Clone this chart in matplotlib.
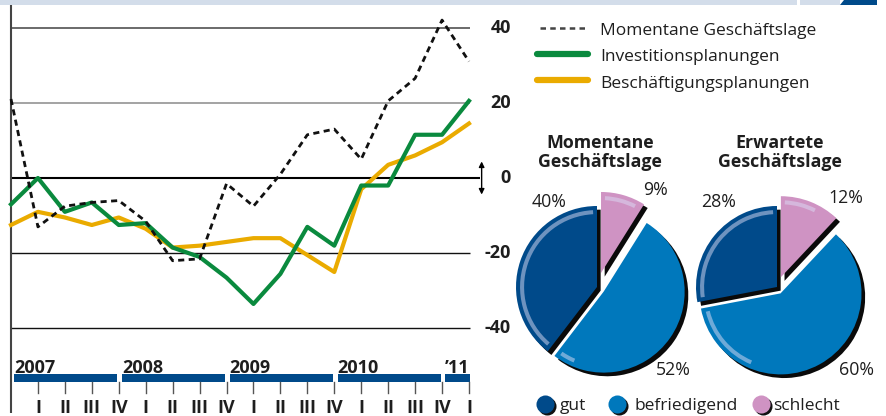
import matplotlib.pyplot as plt
from matplotlib.patches import Rectangle, Polygon, Wedge
from matplotlib.transforms import blended_transform_factory

plt.rcParams['font.family'] = ['Open Sans', 'DejaVu Sans']

W, H = 886, 416

# quarters from 2006 IV to 2011 I
quarter_labels = ['IV', 'I', 'II', 'III', 'IV', 'I', 'II', 'III', 'IV',
                  'I', 'II', 'III', 'IV', 'I', 'II', 'III', 'IV', 'I']
year_labels = ['2007', '2008', '2009', '2010', '\u201911']

momentane = [21, -13, -7.5, -6.5, -6, -11.5, -22, -21.5, -1.5,
             -7.5, 1, 11.5, 13, 5, 20.5, 26.5, 42, 31]
investition = [-7, 0, -9, -6.5, -12.5, -12, -18.5, -21, -26.5,
               -33.5, -25.5, -13, -18, -2, -2, 11.5, 11.5, 20.5]
beschaeftigung = [-12.5, -9, -10.5, -12.5, -10.5, -13.5, -18.5, -18, -17,
                  -16, -16, -20.5, -25, -3, 3.5, 6, 9.5, 14.5]

y_ticks = [40, 20, 0, -20, -40]

series_names = ['Momentane Geschäftslage', 'Investitionsplanungen',
                'Beschäftigungsplanungen']

pie_labels = ['gut', 'befriedigend', 'schlecht']
pie_momentan = [40, 52, 9]
pie_erwartet = [28, 60, 12]

c_green = '#0a8a3e'
c_yellow = '#eaab00'
c_dark = '#004a8a'
c_mid = '#0078bc'
c_pink = '#cf93c3'
c_text = '#1e1e1e'

# pixel layout of the line chart
X0, DX = 11, 26.94
Y0, DY = 178, 3.76


def fx(px):
    return px / W


def fy(py):
    return 1 - py / H


fig = plt.figure(figsize=(W / 100, H / 100), dpi=100)
ax = fig.add_axes([0, 0, 1, 1])
ax.set_xlim(-X0 / DX, (W - X0) / DX)
ax.set_ylim((Y0 - H) / DY, Y0 / DY)
ax.axis('off')
bt = blended_transform_factory(ax.transData, fig.transFigure)

# top strip
fig.patches.append(Rectangle((0, fy(5)), fx(797), 5 / H, transform=fig.transFigure,
                             color='#d3ddea', lw=0, zorder=0))
fig.patches.append(Rectangle((fx(800), fy(5)), fx(40), 5 / H, transform=fig.transFigure,
                             color='#d3ddea', lw=0, zorder=0))
fig.patches.append(Polygon([(fx(840), fy(5)), (fx(844), fy(0)), (fx(877), fy(0)),
                            (fx(877), fy(5))], transform=fig.transFigure,
                           color=c_dark, lw=0, zorder=0))

# grid + right labels
n = len(momentane)
grid_style = {40: ('#6a6a6a', 1.4), 20: ('#8a8a8a', 1.1), 0: ('black', 1.5),
              -20: ('#111111', 1.0), -40: ('#111111', 1.0)}
for v in y_ticks:
    col, lw = grid_style[v]
    ax.hlines(v, 0, 17.4 if v == 0 else 17.05, color=col, lw=lw, zorder=1)
    ax.text(18.55, v, f'{v}', ha='right', va='center', fontsize=13,
            fontweight='bold', color=c_text)

ax.annotate('', xy=(17.47, 4.4), xytext=(17.47, -4.4),
            arrowprops=dict(arrowstyle='<|-|>', color='black', lw=1.0,
                            mutation_scale=8, shrinkA=0, shrinkB=0))

# left axis line
ax.plot([0, 0], [fy(5), fy(413)], transform=bt, color='#444444', lw=1.5,
        solid_capstyle='butt', zorder=3)

x = list(range(n))
ax.plot(x, beschaeftigung, color=c_yellow, lw=3.0, zorder=4)
ax.plot(x, investition, color=c_green, lw=3.0, zorder=5)
ln, = ax.plot(x, momentane, color='#111111', lw=2.0, zorder=6)
ln.set_dashes([2.2, 1.6])

# year bars and quarter ticks
for k, yl in enumerate(year_labels):
    i0 = 1 + 4 * k
    start = i0 - 0.88
    end = min(i0 + 2.95, n - 1 + 0.03)
    ax.add_patch(Rectangle((start, fy(382)), end - start, 8 / H, transform=bt,
                           color=c_dark, lw=0))
    ax.text(start, fy(373), yl, transform=bt, ha='left', va='baseline',
            fontsize=13, fontweight='bold', color=c_text)

for i in range(1, n):
    ax.plot([i, i], [fy(382), fy(393)], transform=bt, color='#555555', lw=1.0)
    ax.text(i, fy(413), quarter_labels[i], transform=bt, ha='center',
            va='baseline', fontsize=13, fontweight='bold', color=c_text)

# top legend
leg_rows = [(28, 35), (54, 61), (80, 88)]
for k, (ly, tb) in enumerate(leg_rows):
    if k == 0:
        l, = ax.plot([fx(540), fx(588)], [fy(ly)] * 2, transform=fig.transFigure,
                     color='#444444', lw=1.8)
        l.set_dashes([2.2, 1.7])
    else:
        ax.plot([fx(537), fx(588)], [fy(ly)] * 2, transform=fig.transFigure,
                color=[c_green, c_yellow][k - 1], lw=4.5, solid_capstyle='round')
    fig.text(fx(600), fy(tb), series_names[k], ha='left', va='baseline',
             fontsize=12.5, color=c_text)


# pies
def draw_pie(cx, cy, values, explode, title, pct_pos):
    R = 81
    S = 2 * 1.3 * R
    pax = fig.add_axes([fx(cx - S / 2), fy(cy + S / 2), S / W, S / H])
    pax.pie(values, explode=explode, startangle=90, colors=['#0a0a0a'] * 3,
            center=(0.045, -0.045), wedgeprops=dict(lw=0))
    wedges, _ = pax.pie(values, explode=explode, startangle=90,
                        colors=[c_dark, c_mid, c_pink], wedgeprops=dict(lw=0))
    for w in wedges:
        t1 = w.theta1 % 360
        t2 = t1 + (w.theta2 - w.theta1)
        lo, hi = max(t1, 60), min(t2, 250)
        if hi > lo + 8:
            pax.add_patch(Wedge(w.center, w.r * 0.95, lo + 3, hi - 3, width=0.05,
                                color='#dcdcf5', alpha=0.5, lw=0))
    pax.set_xlim(-1.3, 1.3)
    pax.set_ylim(-1.3, 1.3)
    pax.axis('off')
    fig.text(fx(cx + 3), fy(148), title[0], ha='center', va='baseline',
             fontsize=12.8, fontweight='bold', color=c_text)
    fig.text(fx(cx + 3), fy(167), title[1], ha='center', va='baseline',
             fontsize=12.8, fontweight='bold', color=c_text)
    for v, (px, py) in zip(values, pct_pos):
        fig.text(fx(px), fy(py), f'{v}%', ha='center', va='center',
                 fontsize=12.8, color=c_text)


draw_pie(597, 287, pie_momentan, [0, 0.1, 0.18], ('Momentane', 'Geschäftslage'),
         [(549, 202), (673, 370), (655, 190)])
draw_pie(777, 287, pie_erwartet, [0, 0.09, 0.13], ('Erwartete', 'Geschäftslage'),
         [(719, 202), (856, 370), (846, 198)])

# pie legend
for (mx, tx), lab, col in zip([(545, 560), (617, 634), (761, 773)], pie_labels,
                              [c_dark, c_mid, c_pink]):
    ax.plot(fx(mx + 1.5), fy(405.5), 'o', transform=fig.transFigure, ms=13,
            color='#111111', mew=0)
    ax.plot(fx(mx), fy(404), 'o', transform=fig.transFigure, ms=13, color=col, mew=0)
    fig.text(fx(tx), fy(410), lab, ha='left', va='baseline', fontsize=12.5,
             color=c_text)

fig.savefig('out.png', dpi=100)
